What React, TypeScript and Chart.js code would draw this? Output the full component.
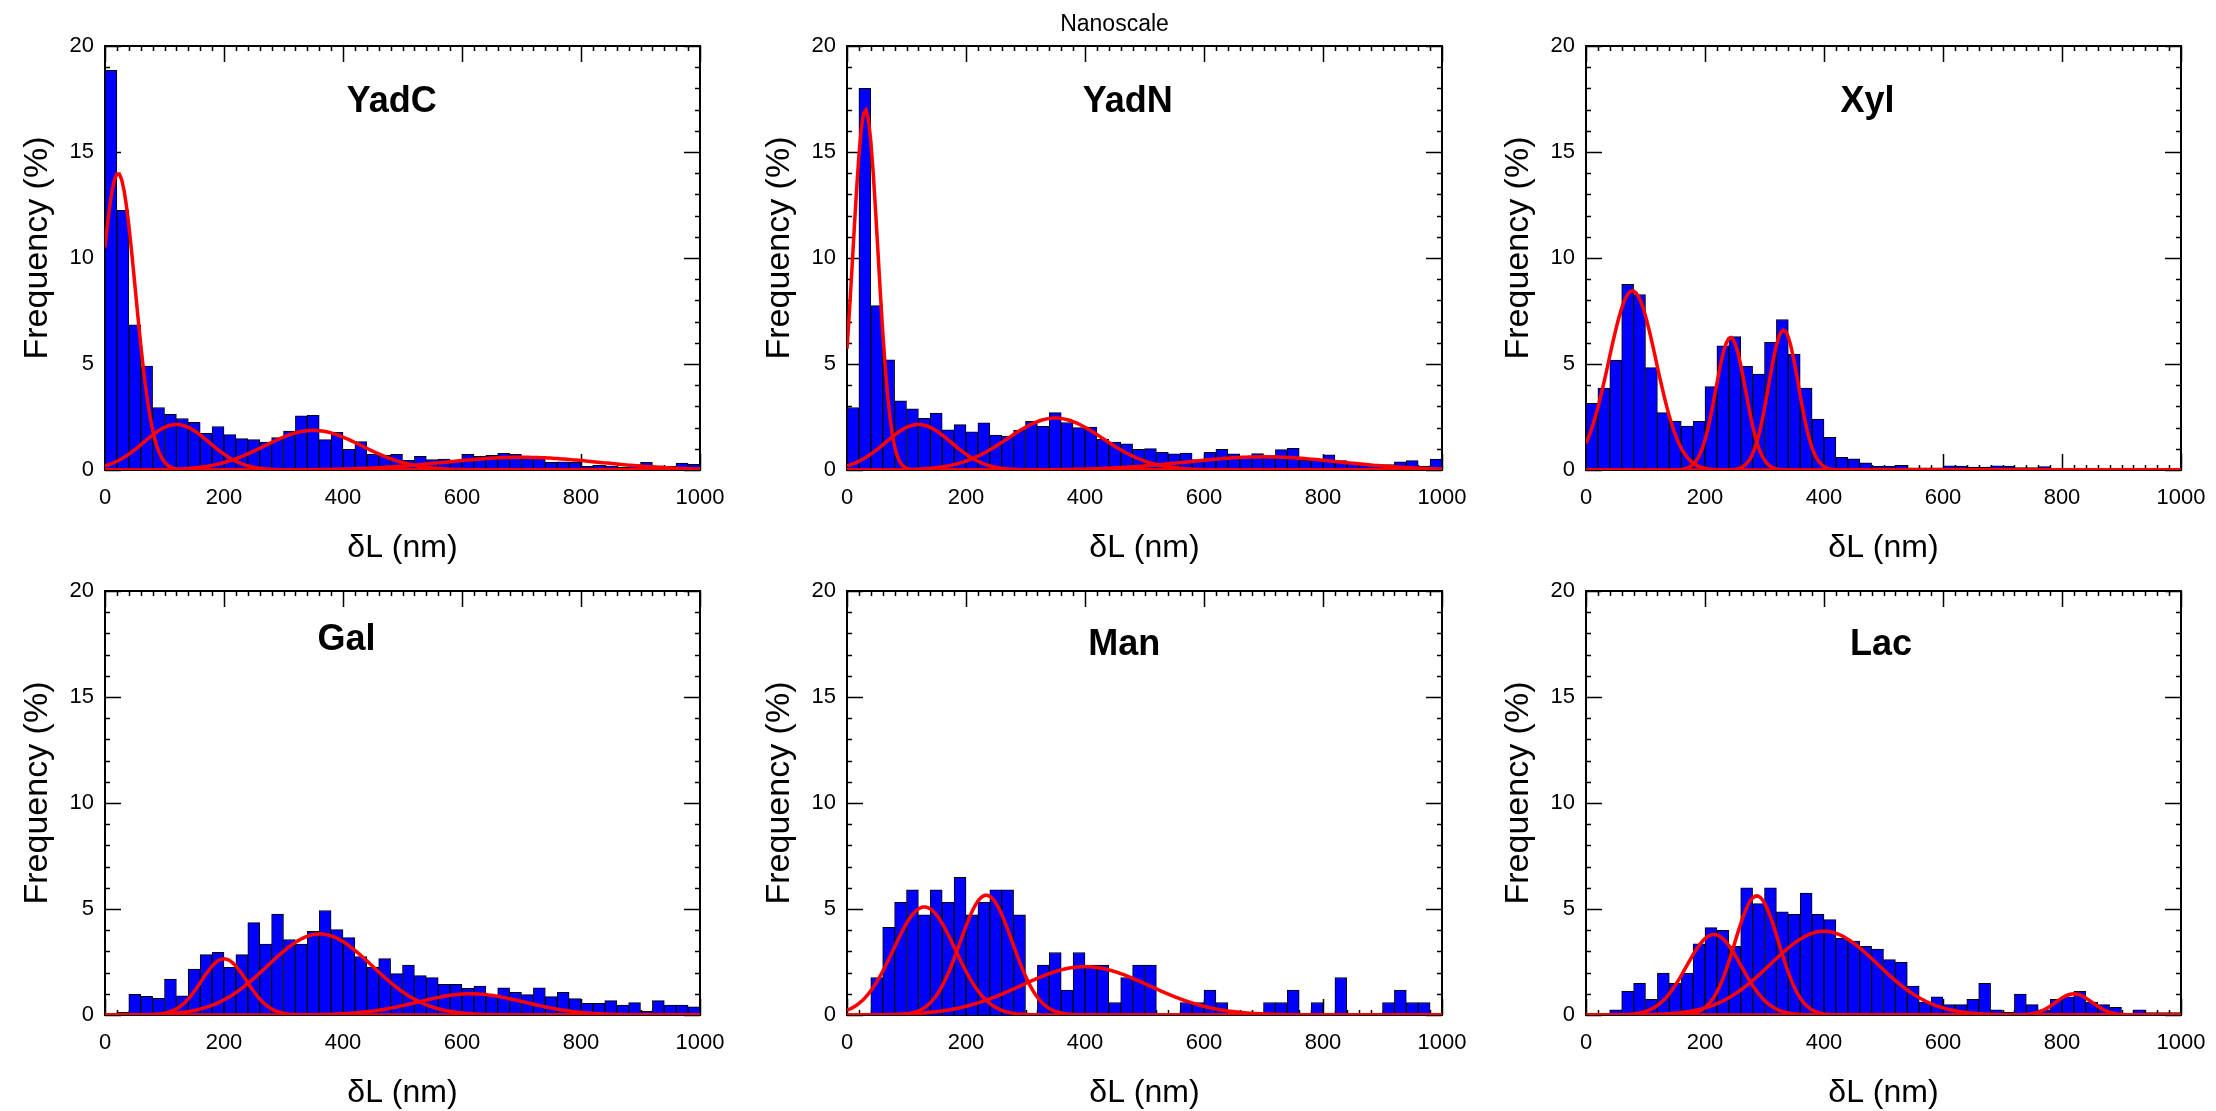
import React, { useEffect, useRef } from "react";
import { Chart, registerables } from "chart.js";

Chart.register(...registerables);

// ---------- data ----------
const BIN_CENTERS = [
  10, 30, 50, 70, 90, 110, 130, 150, 170, 190,
  210, 230, 250, 270, 290, 310, 330, 350, 370, 390,
  410, 430, 450, 470, 490, 510, 530, 550, 570, 590,
  610, 630, 650, 670, 690, 710, 730, 750, 770, 790,
  810, 830, 850, 870, 890, 910, 930, 950, 970, 990,
];
const X_TICKS = [0, 200, 400, 600, 800, 1000];
const Y_TICKS = [0, 5, 10, 15, 20];
const SUPER_TITLE = "Nanoscale";
const X_TITLE = "δL (nm)";
const Y_TITLE = "Frequency (%)";

const YADC_FREQ = [
  18.85, 12.25, 6.85, 4.9, 2.95, 2.63, 2.43, 2.25, 1.73, 2.05,
  1.67, 1.48, 1.43, 1.32, 1.53, 1.84, 2.55, 2.58, 1.43, 1.78,
  0.98, 1.34, 0.74, 0.69, 0.74, 0.46, 0.65, 0.49, 0.52, 0.46,
  0.74, 0.65, 0.69, 0.79, 0.74, 0.54, 0.54, 0.36, 0.38, 0.36,
  0.17, 0.22, 0.19, 0.13, 0.25, 0.36, 0.2, 0.17, 0.33, 0.27,
];
const YADN_FREQ = [
  2.95, 18.0, 7.75, 5.2, 3.26, 2.88, 2.44, 2.68, 1.89, 2.14,
  1.8, 2.22, 1.65, 1.6, 1.88, 2.3, 2.06, 2.71, 2.24, 2.0,
  2.03, 1.45, 1.32, 1.24, 0.98, 1.01, 0.83, 0.76, 0.8, 0.49,
  0.83, 0.98, 0.76, 0.66, 0.77, 0.68, 0.96, 1.02, 0.46, 0.46,
  0.72, 0.44, 0.35, 0.27, 0.25, 0.25, 0.39, 0.44, 0.19, 0.52,
];
const XYL_FREQ = [
  3.15, 3.86, 5.19, 8.76, 8.28, 4.83, 2.71, 2.3, 2.07, 2.3,
  3.93, 5.86, 6.29, 4.89, 4.53, 6.02, 7.1, 5.47, 3.86, 2.4,
  1.54, 0.6, 0.53, 0.34, 0.17, 0.19, 0.22, 0.1, 0.1, 0.1,
  0.2, 0.19, 0.14, 0.14, 0.2, 0.17, 0.11, 0.11, 0.16, 0.08,
  0, 0.06, 0, 0, 0, 0, 0, 0, 0, 0,
];
const GAL_FREQ = [
  0, 0.13, 0.98, 0.88, 0.79, 1.69, 0.9, 2.17, 2.85, 2.96,
  2.25, 2.85, 4.36, 3.35, 4.76, 3.56, 3.34, 3.95, 4.93, 4.03,
  3.65, 2.76, 2.25, 2.66, 1.95, 2.35, 1.86, 1.76, 1.45, 1.45,
  1.26, 1.37, 0.9, 1.28, 1.07, 0.96, 1.28, 0.87, 1.07, 0.77,
  0.55, 0.55, 0.68, 0.47, 0.58, 0.17, 0.68, 0.47, 0.47, 0.39,
];
const MAN_FREQ = [
  0, 0, 1.77, 4.13, 5.31, 5.9, 4.72, 5.9, 5.31, 6.49,
  4.72, 5.31, 5.9, 5.9, 4.72, 0, 2.36, 2.95, 1.18, 2.95,
  2.36, 2.36, 0.59, 1.77, 2.36, 2.36, 0, 0, 0.59, 0.59,
  1.18, 0.59, 0, 0, 0, 0.59, 0.59, 1.18, 0, 0.59,
  0, 1.77, 0, 0, 0, 0.59, 1.18, 0.59, 0.59, 0,
];
const LAC_FREQ = [
  0, 0, 0.24, 1.12, 1.49, 0.74, 1.98, 1.49, 1.98, 3.36,
  4.12, 3.99, 3.24, 6.0, 5.25, 6.0, 4.87, 4.75, 5.75, 4.75,
  4.5, 3.62, 3.49, 3.24, 3.11, 2.61, 2.48, 1.37, 0.61, 0.86,
  0.49, 0.49, 0.74, 1.49, 0.24, 0.13, 0.99, 0.49, 0.24, 0.74,
  0.86, 1.12, 0.61, 0.49, 0.36, 0.05, 0.24, 0.12, 0.12, 0.12,
];

// Gaussian fit components: centre (nm), peak height (%), sigma (nm)
const YADC_FIT_CENTER = [22, 120, 350, 700];
const YADC_FIT_HEIGHT = [14.0, 2.15, 1.87, 0.6];
const YADC_FIT_SIGMA = [29, 55, 82, 130];

const YADN_FIT_CENTER = [31, 120, 350, 700];
const YADN_FIT_HEIGHT = [17.0, 2.15, 2.45, 0.62];
const YADN_FIT_SIGMA = [21, 55, 80, 130];

const XYL_FIT_CENTER = [78, 243, 332];
const XYL_FIT_HEIGHT = [8.45, 6.25, 6.6];
const XYL_FIT_SIGMA = [40, 25, 25];

const GAL_FIT_CENTER = [200, 361, 615];
const GAL_FIT_HEIGHT = [2.65, 3.82, 1.0];
const GAL_FIT_SIGMA = [38, 88, 90];

const MAN_FIT_CENTER = [130, 234, 400];
const MAN_FIT_HEIGHT = [5.1, 5.65, 2.28];
const MAN_FIT_SIGMA = [52, 44, 108];

const LAC_FIT_CENTER = [215, 287, 400, 820];
const LAC_FIT_HEIGHT = [3.8, 5.62, 3.95, 1.0];
const LAC_FIT_SIGMA = [46, 37, 90, 30];

// ---------- layout ----------
const FONT = '"Liberation Sans", Arial, Helvetica, sans-serif';
const PAD = { left: 100, top: 46, right: 40, bottom: 94 };
const PLOT_W = 595;
const PLOT_H = 424;
const CANVAS_W = PAD.left + PLOT_W + PAD.right;
const CANVAS_H = PAD.top + PLOT_H + PAD.bottom;

type PanelCfg = {
  name: string;
  freq: number[];
  centers: number[];
  heights: number[];
  sigmas: number[];
  plotLeft: number;
  plotTop: number;
  titleX: number;
  titleY: number;
  superTitle?: { x: number; y: number };
};

const PANELS: PanelCfg[] = [
  { name: "YadC", freq: YADC_FREQ, centers: YADC_FIT_CENTER, heights: YADC_FIT_HEIGHT, sigmas: YADC_FIT_SIGMA, plotLeft: 105, plotTop: 46, titleX: 482, titleY: 16.9 },
  { name: "YadN", freq: YADN_FREQ, centers: YADN_FIT_CENTER, heights: YADN_FIT_HEIGHT, sigmas: YADN_FIT_SIGMA, plotLeft: 847, plotTop: 46, titleX: 472, titleY: 16.9, superTitle: { x: 1114.5, y: 30.5 } },
  { name: "Xyl", freq: XYL_FREQ, centers: XYL_FIT_CENTER, heights: XYL_FIT_HEIGHT, sigmas: XYL_FIT_SIGMA, plotLeft: 1586, plotTop: 46, titleX: 473, titleY: 16.9 },
  { name: "Gal", freq: GAL_FREQ, centers: GAL_FIT_CENTER, heights: GAL_FIT_HEIGHT, sigmas: GAL_FIT_SIGMA, plotLeft: 105, plotTop: 591, titleX: 406, titleY: 17.2 },
  { name: "Man", freq: MAN_FREQ, centers: MAN_FIT_CENTER, heights: MAN_FIT_HEIGHT, sigmas: MAN_FIT_SIGMA, plotLeft: 847, plotTop: 591, titleX: 466, titleY: 17.0 },
  { name: "Lac", freq: LAC_FREQ, centers: LAC_FIT_CENTER, heights: LAC_FIT_HEIGHT, sigmas: LAC_FIT_SIGMA, plotLeft: 1586, plotTop: 591, titleX: 496, titleY: 17.0 },
];

function gaussianCurve(c: number, h: number, s: number) {
  const pts: { x: number; y: number }[] = [];
  for (let x = 0; x <= 1000; x += 4) {
    pts.push({ x, y: h * Math.exp(-((x - c) * (x - c)) / (2 * s * s)) });
  }
  return pts;
}

const framePlugin = {
  id: "frame",
  beforeDatasetsDraw(chart: any) {
    const { ctx, chartArea: a, scales } = chart;
    const xs = scales.x;
    const ys = scales.y;
    ctx.save();
    ctx.strokeStyle = "#000";
    ctx.lineWidth = 1.5;
    ctx.beginPath();
    for (let v = 0; v <= 1000; v += 20) {
      const px = Math.round(xs.getPixelForValue(v)) + 0.5;
      const len = X_TICKS.includes(v) ? 16 : 5;
      ctx.moveTo(px, a.top);
      ctx.lineTo(px, a.top + len);
      ctx.moveTo(px, a.bottom);
      ctx.lineTo(px, a.bottom - len);
    }
    for (let v = 0; v <= 20; v += 1) {
      const py = Math.round(ys.getPixelForValue(v)) + 0.5;
      const len = Y_TICKS.includes(v) ? 16 : 5;
      ctx.moveTo(a.left, py);
      ctx.lineTo(a.left + len, py);
      ctx.moveTo(a.right, py);
      ctx.lineTo(a.right - len, py);
    }
    ctx.stroke();
    ctx.lineWidth = 2;
    ctx.strokeRect(a.left, a.top, a.right - a.left, a.bottom - a.top);
    ctx.restore();
  },
  afterDraw(chart: any, _args: any, opts: any) {
    const { ctx, chartArea: a, scales } = chart;
    const xs = scales.x;
    const ys = scales.y;
    ctx.save();
    ctx.fillStyle = "#000";
    // tick labels
    ctx.font = `22px ${FONT}`;
    ctx.textAlign = "right";
    ctx.textBaseline = "middle";
    for (const v of Y_TICKS) {
      ctx.fillText(String(v), a.left - 11, ys.getPixelForValue(v));
    }
    ctx.textAlign = "center";
    ctx.textBaseline = "alphabetic";
    for (const v of X_TICKS) {
      ctx.fillText(String(v), xs.getPixelForValue(v), a.bottom + 34);
    }
    // x title
    ctx.font = `32px ${FONT}`;
    ctx.fillText(X_TITLE, (a.left + a.right) / 2, a.bottom + 87);
    // y title
    ctx.save();
    ctx.font = `34px ${FONT}`;
    ctx.translate(a.left - 58, (a.top + a.bottom) / 2 - 10);
    ctx.rotate(-Math.PI / 2);
    ctx.textAlign = "center";
    ctx.fillText(Y_TITLE, 0, 0);
    ctx.restore();
    // panel title
    ctx.font = `bold 36px ${FONT}`;
    ctx.textAlign = "center";
    ctx.fillText(opts.title, xs.getPixelForValue(opts.titleX), ys.getPixelForValue(opts.titleY));
    // super title
    if (opts.superTitle) {
      ctx.font = `23px ${FONT}`;
      ctx.fillText(SUPER_TITLE, opts.superTitle.x, opts.superTitle.y);
    }
    ctx.restore();
  },
};

function Panel({ cfg }: { cfg: PanelCfg }) {
  const ref = useRef<HTMLCanvasElement>(null);
  const canvasLeft = cfg.plotLeft - PAD.left;
  const canvasTop = cfg.plotTop - PAD.top;

  useEffect(() => {
    if (!ref.current) return;
    const fitSets = cfg.centers.map((c, i) => ({
      type: "line" as const,
      data: gaussianCurve(c, cfg.heights[i], cfg.sigmas[i]),
      borderColor: "#FF0000",
      borderWidth: 3.5,
      pointRadius: 0,
      tension: 0,
      fill: false,
      order: 1,
    }));
    const chart = new Chart(ref.current, {
      type: "bar",
      data: {
        datasets: [
          {
            type: "bar" as const,
            data: BIN_CENTERS.map((x, i) => ({ x, y: cfg.freq[i] })),
            backgroundColor: "#0000FF",
            borderColor: "#000000",
            borderWidth: 1,
            barPercentage: 1,
            categoryPercentage: 1,
            order: 2,
          },
          ...fitSets,
        ] as any,
      },
      options: {
        animation: false,
        responsive: false,
        devicePixelRatio: 1,
        events: [],
        layout: { padding: PAD },
        plugins: {
          legend: { display: false },
          tooltip: { enabled: false },
          frame: {
            title: cfg.name,
            titleX: cfg.titleX,
            titleY: cfg.titleY,
            superTitle: cfg.superTitle
              ? { x: cfg.superTitle.x - canvasLeft, y: cfg.superTitle.y - canvasTop }
              : null,
          },
        } as any,
        scales: {
          x: { type: "linear", min: 0, max: 1000, offset: false, display: false, ticks: { stepSize: 200 } },
          y: { type: "linear", min: 0, max: 20, display: false },
        },
      },
      plugins: [framePlugin],
    });
    return () => chart.destroy();
  }, []);

  return (
    <canvas
      ref={ref}
      width={CANVAS_W}
      height={CANVAS_H}
      style={{ position: "absolute", left: canvasLeft, top: canvasTop, width: CANVAS_W, height: CANVAS_H }}
    />
  );
}

export default function App() {
  return (
    <div style={{ position: "absolute", left: 0, top: 0, width: 2216, height: 1111, background: "#fff", overflow: "hidden" }}>
      {PANELS.map((p) => (
        <Panel key={p.name} cfg={p} />
      ))}
    </div>
  );
}
